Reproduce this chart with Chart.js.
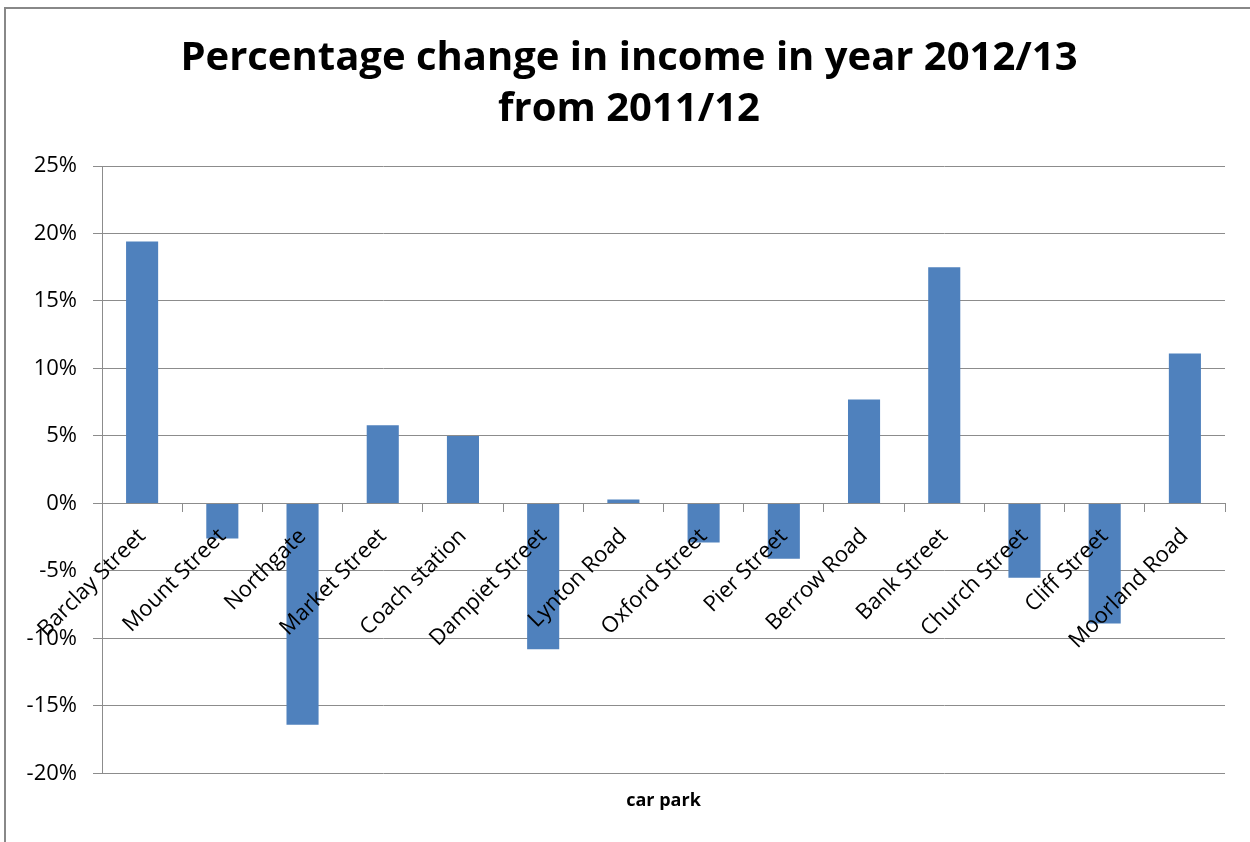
<!DOCTYPE html>
<html>
<head>
<meta charset="utf-8">
<script src="https://cdn.jsdelivr.net/npm/chart.js@4.4.1/dist/chart.umd.min.js"></script>
<style>
  html, body { margin: 0; padding: 0; background: #fff; }
  #wrap { position: relative; width: 1250px; height: 842px; }
  canvas { display: block; }
</style>
</head>
<body>
<div id="wrap"><canvas id="c" width="1250" height="842"></canvas></div>
<script>
const categories = ["Barclay Street", "Mount Street", "Northgate", "Market Street", "Coach station", "Dampiet Street", "Lynton Road", "Oxford Street", "Pier Street", "Berrow Road", "Bank Street", "Church Street", "Cliff Street", "Moorland Road"];
const percentChange = [19.4, -2.6, -16.4, 5.8, 5.0, -10.8, 0.3, -2.9, -4.1, 7.7, 17.5, -5.5, -8.9, 11.1];
const yTickMin = -20;
const yTickMax = 25;
const yTickStep = 5;
const titleLines = ["Percentage change in income in year 2012/13", "from 2011/12"];
const xAxisTitle = "car park";

const frame = {
  id: 'frame',
  beforeDraw(chart) {
    const ctx = chart.ctx;
    ctx.save();
    ctx.fillStyle = '#fff';
    ctx.fillRect(0, 0, chart.width, chart.height);
    ctx.strokeStyle = '#888888';
    ctx.lineWidth = 2;
    ctx.beginPath();
    ctx.moveTo(5, chart.height);
    ctx.lineTo(5, 8);
    ctx.lineTo(chart.width, 8);
    ctx.stroke();
    ctx.restore();
  }
};

const gridColor = '#8c8c8c';
const FONT = '"Open Sans", Lato, sans-serif';

new Chart(document.getElementById('c'), {
  type: 'bar',
  data: {
    labels: categories,
    datasets: [{
      data: percentChange,
      backgroundColor: '#4F81BD',
      borderWidth: 0,
      categoryPercentage: 1.0,
      barPercentage: 0.4,
      xAxisID: 'x',
      yAxisID: 'y'
    }]
  },
  options: {
    responsive: false,
    animation: false,
    devicePixelRatio: 1,
    layout: { padding: { left: 20, right: 12, top: 0, bottom: 30 } },
    plugins: {
      legend: { display: false },
      tooltip: { enabled: false },
      title: {
        display: true,
        text: titleLines,
        color: '#000',
        font: { family: FONT, size: 40, weight: 'bold', lineHeight: '51px' },
        padding: { top: 33, bottom: 31 }
      }
    },
    scales: {
      x: {
        type: 'category',
        position: { y: 0 },
        grid: {
          display: true,
          drawOnChartArea: false,
          drawTicks: true,
          tickLength: 8,
          color: gridColor,
          offset: true
        },
        border: { display: true, color: gridColor, width: 1 },
        ticks: {
          z: 1,
          autoSkip: false,
          maxRotation: 45,
          minRotation: 45,
          padding: 12,
          color: '#000',
          font: { family: FONT, size: 22 }
        }
      },
      x2: {
        type: 'category',
        position: 'bottom',
        labels: categories,
        grid: { display: false },
        border: { display: false },
        ticks: { display: false },
        title: {
          display: true,
          text: xAxisTitle,
          color: '#000',
          font: { family: FONT, size: 18, weight: 'bold', lineHeight: 1.2 },
          padding: { top: 9, bottom: 0 }
        }
      },
      y: {
        type: 'linear',
        position: 'left',
        min: yTickMin,
        max: yTickMax,
        afterFit(scale) { scale.width = 82; },
        grid: {
          color: gridColor,
          lineWidth: 1,
          drawTicks: true,
          tickLength: 9
        },
        border: { display: true, color: gridColor, width: 1 },
        ticks: {
          stepSize: yTickStep,
          padding: 16,
          color: '#000',
          font: { family: FONT, size: 22 },
          callback: (v) => v + '%'
        }
      },
      yR: {
        type: 'linear',
        position: 'right',
        min: yTickMin,
        max: yTickMax,
        afterFit(scale) { scale.width = 13; },
        grid: { display: false },
        border: { display: false },
        ticks: { display: false }
      }
    }
  },
  plugins: [frame]
});
</script>
</body>
</html>
